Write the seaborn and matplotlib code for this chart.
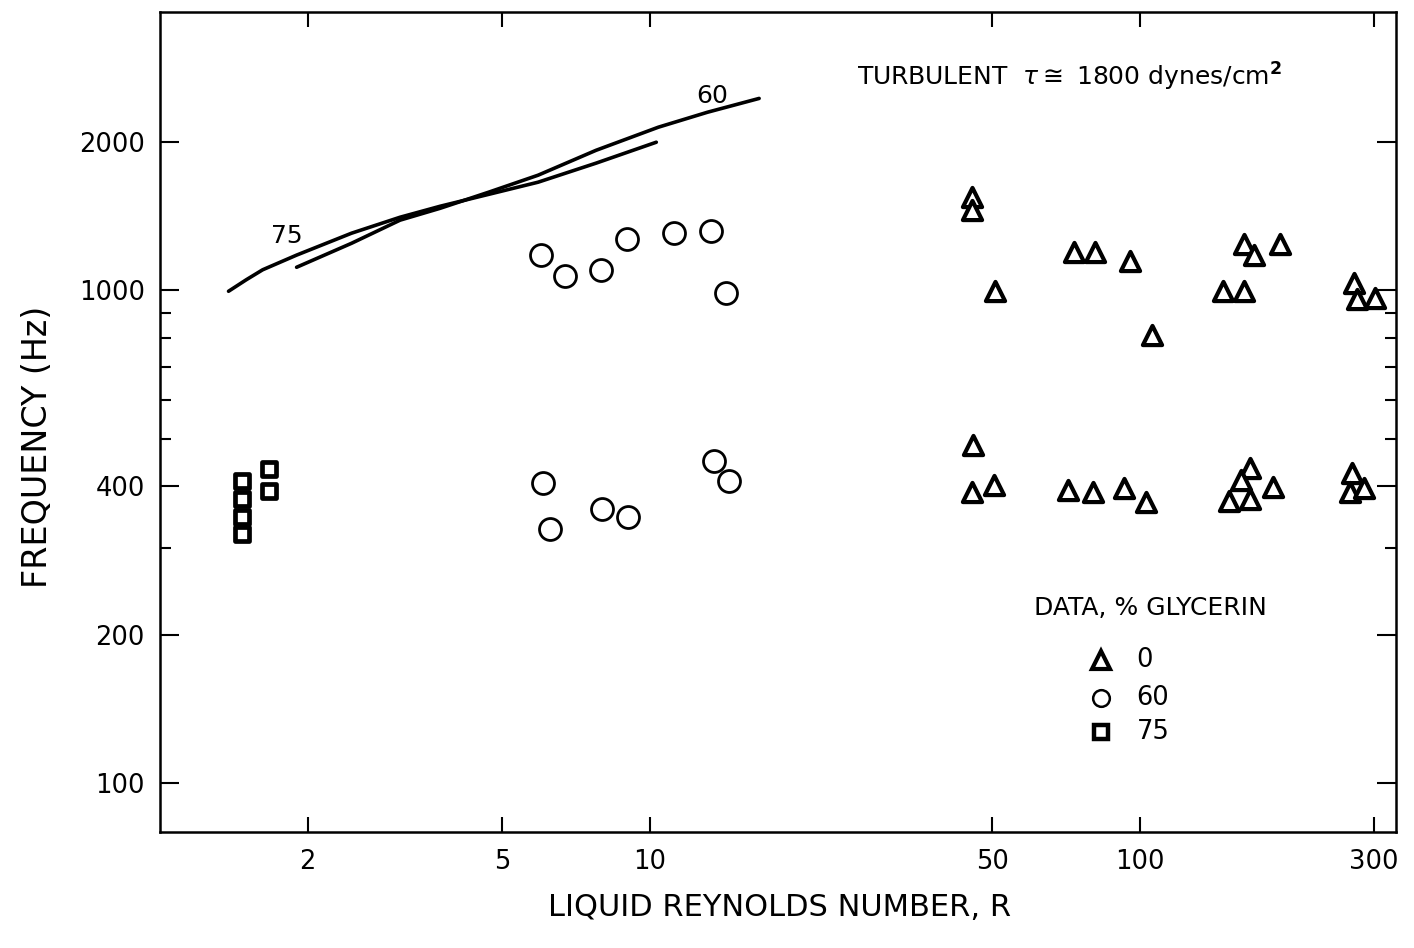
import matplotlib
matplotlib.use("Agg")
import matplotlib.pyplot as plt
import seaborn as sns
import pandas as pd

# ---------------- data ----------------
# smooth curves (labelled by % glycerin)
R_curve75 = [1.38, 1.50, 1.62, 1.90, 2.46, 3.09, 3.73, 4.69, 5.91, 7.76, 10.3]
f_curve75 = [995, 1050, 1100, 1178, 1305, 1406, 1480, 1565, 1656, 1810, 1996]
R_curve60 = [1.90, 2.46, 3.09, 3.73, 4.69, 5.91, 7.76, 10.4, 13.1, 16.7]
f_curve60 = [1113, 1245, 1387, 1466, 1581, 1711, 1922, 2141, 2296, 2449]

# data points, 0 % glycerin (triangles)
R_0 = [45.5, 45.5, 50.6, 73.3, 80.8, 95.4, 106, 148, 163, 163, 171, 193, 273, 277, 302,
       45.6, 45.4, 50.3, 71.2, 80.2, 92.6, 103, 168, 161, 152, 168, 187, 271, 268, 286]
f_0 = [1546, 1453, 997, 1196, 1196, 1147, 810, 997, 997, 1243, 1178, 1243, 1032, 959, 963,
       485, 390, 402, 393, 390, 397, 372, 436, 412, 374, 377, 399, 425, 390, 397]

# data points, 60 % glycerin (circles)
R_60 = [5.99, 6.71, 7.94, 8.98, 11.2, 13.3, 14.3, 6.05, 6.25, 7.98, 9.02, 13.5, 14.5]
f_60 = [1178, 1068, 1098, 1269, 1305, 1317, 986, 406, 327, 360, 346, 450, 410]

# data points, 75 % glycerin (squares)
R_75 = [1.47, 1.47, 1.47, 1.47, 1.67, 1.67]
f_75 = [410, 377, 346, 320, 433, 391]

x_ticks = [2, 5, 10, 50, 100, 300]
x_ticklabels = ["2", "5", "10", "50", "100", "300"]
y_ticks = [100, 200, 400, 1000, 2000]
y_ticklabels = ["100", "200", "400", "1000", "2000"]
y_minor = [300, 500, 600, 700, 800, 900]

legend_labels = ["0", "60", "75"]

# ---------------- style ----------------
sns.set_style("ticks")
plt.rcParams["font.family"] = ["DejaVu Sans"]
plt.rcParams["mathtext.fontset"] = "dejavusans"
plt.rcParams["text.color"] = "black"
plt.rcParams["axes.labelcolor"] = "black"
plt.rcParams["xtick.color"] = "black"
plt.rcParams["ytick.color"] = "black"

W, H = 1414, 948
fig = plt.figure(figsize=(W / 100, H / 100), dpi=100)
L, R, T, B = 160, 1396, 12, 832
ax = fig.add_axes([L / W, 1 - B / H, (R - L) / W, (B - T) / H])

df75 = pd.DataFrame({"R": R_curve75, "f": f_curve75})
df60 = pd.DataFrame({"R": R_curve60, "f": f_curve60})
sns.lineplot(data=df75, x="R", y="f", ax=ax, sort=False, estimator=None,
             color="black", linewidth=2.6)
sns.lineplot(data=df60, x="R", y="f", ax=ax, sort=False, estimator=None,
             color="black", linewidth=2.6)

d0 = pd.DataFrame({"R": R_0, "f": f_0})
d60 = pd.DataFrame({"R": R_60, "f": f_60})
d75 = pd.DataFrame({"R": R_75, "f": f_75})
sns.scatterplot(data=d0, x="R", y="f", ax=ax, marker="^", s=190,
                color="white", edgecolor="black", linewidth=3.0, zorder=3)
sns.scatterplot(data=d60, x="R", y="f", ax=ax, marker="o", s=250,
                color="white", edgecolor="black", linewidth=2.0, zorder=3)
sns.scatterplot(data=d75, x="R", y="f", ax=ax, marker="s", s=110,
                color="white", edgecolor="black", linewidth=3.4, zorder=3)

ax.set_xscale("log")
ax.set_yscale("log")
ax.set_xlim(1.0, 333)
ax.set_ylim(79.6, 3667)

ax.set_xticks(x_ticks)
ax.set_xticklabels(x_ticklabels)
ax.set_xticks([], minor=True)
ax.set_yticks(y_ticks)
ax.set_yticklabels(y_ticklabels)
ax.set_yticks(y_minor, minor=True)
ax.set_yticklabels([], minor=True)

ax.tick_params(axis="both", which="major", direction="in", top=True, right=True,
               labelsize=18.5, width=1.5, color="black", labelcolor="black")
ax.tick_params(axis="x", which="major", length=11, pad=12)
ax.tick_params(axis="y", which="major", length=14, pad=11)
ax.tick_params(axis="y", which="minor", direction="in", right=True, length=8, width=1.5)

for sp in ax.spines.values():
    sp.set_linewidth(1.8)
    sp.set_color("black")

ax.set_xlabel("")
ax.set_ylabel("")

# curve labels
ax.text(1.816, 1287, "75", fontsize=18, ha="center", va="center")
ax.text(13.38, 2475, "60", fontsize=18, ha="center", va="center")

# annotation
ax.text(0.564, 0.9207, r"TURBULENT  $\tau\cong$ 1800 dynes/cm$^{\mathbf{2}}$",
        transform=ax.transAxes, fontsize=18, ha="left", va="center")

# legend
ax.text(0.801, 0.273, "DATA, % GLYCERIN", transform=ax.transAxes,
        fontsize=18, ha="center", va="center")
leg_y = [0.2098, 0.1634, 0.122]
ax.plot([0.761], [leg_y[0]], transform=ax.transAxes, marker="^", ms=13,
        mfc="white", mec="black", mew=3.0, ls="none")
ax.plot([0.761], [leg_y[1]], transform=ax.transAxes, marker="o", ms=12,
        mfc="white", mec="black", mew=1.8, ls="none")
ax.plot([0.761], [leg_y[2]], transform=ax.transAxes, marker="s", ms=10,
        mfc="white", mec="black", mew=3.2, ls="none")
for yy, lab in zip(leg_y, legend_labels):
    ax.text(0.790, yy, lab, transform=ax.transAxes, fontsize=18.5,
            ha="left", va="center")

# axis titles
fig.text(38 / W, 1 - 447 / H, "FREQUENCY (Hz)", rotation=90, fontsize=24,
         ha="center", va="center")
fig.text(780 / W, 1 - 908 / H, "LIQUID REYNOLDS NUMBER, R", fontsize=22,
         ha="center", va="center")

fig.savefig("out.png", dpi=100, facecolor="white")
